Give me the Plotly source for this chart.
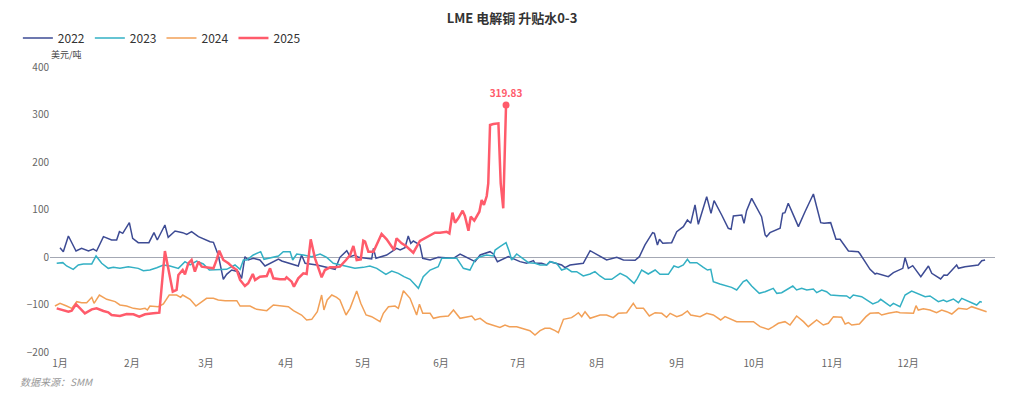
import plotly.graph_objects as go

# ---- data (x = day position within the year, y = USD/t) ----
month_ticks = [1, 29.3, 58.5, 90.0, 120.3, 151.0, 181.3, 212.4, 243.9, 274.2, 304.9, 334.9]
month_labels = ["1月", "2月", "3月", "4月", "5月", "6月", "7月", "8月", "9月", "10月", "11月", "12月"]

x22 = [1.0, 2.3, 4.3, 7.3, 9.5, 12.2, 14.1, 15.4, 18.1, 21.3, 23.3, 24.4, 25.7, 28.3, 29.6, 31.8, 36.0, 38.0, 39.3,
       42.3, 43.6, 46.3, 49.3, 50.9, 52.8, 55.5, 60.1, 61.4, 63.3, 65.3, 66.6, 68.6, 71.2, 72.5, 73.8, 75.1,
       77.1, 79.7, 81.7, 83.7, 87.0, 88.3, 91.6, 94.8, 96.1, 97.5, 102.1, 106.6, 109.3, 111.2, 113.9, 115.2, 117.1,
       118.5, 123.7, 124.4, 125.4, 129.6, 133.5, 134.9, 136.8, 138.1, 139.1, 140.1,
       142.7, 143.8, 146.7, 149.9, 155.9, 158.5, 160.4, 164.4, 166.4, 170.3, 171.6, 173.2, 177.5, 179.5, 182.1,
       184.7, 187.4, 188.0, 190.6, 192.6, 193.9, 198.5, 199.8, 201.8, 207.0, 209.7, 211.6,
       213.6, 216.2, 220.2, 222.8, 227.4, 229.1, 231.3, 234.3, 235.0, 236.2, 237.0, 238.3, 241.8, 243.8, 246.4,
       248.0, 249.3, 251.0, 252.3, 255.3, 255.6, 257.3, 258.5, 261.5, 264.1, 265.2, 266.1, 269.4, 270.3, 271.3,
       273.3, 277.2, 278.6, 279.2, 280.5, 284.5, 285.5, 286.4, 287.7,
       290.0, 291.7, 294.3, 297.6, 300.5, 301.8, 304.4, 306.5, 308.1, 311.4, 315.3, 316.0, 319.9, 321.9, 322.5,
       325.8, 327.1, 329.1, 332.8, 333.7, 335.0, 336.7, 339.9, 342.9, 344.2, 347.7, 349.0, 350.3, 354.0, 354.7,
       357.3, 362.5, 363.9, 365.2]
y22 = [19.6, 11.2, 44.2, 12.6, 18.2, 12.6, 16.8, 12.6, 42.8, 35.8, 35.8, 53.3, 49.8, 72.3, 39.3, 30.2, 30.2, 51.2, 35.8,
       67.4, 41.4, 54.7, 51.2, 47.7, 53.3, 42.8, 32.3, 30.9, 4.2, -47.0, -36.5, -27.4, -30.9, -44.9, 0.7, -6.3,
       -2.8, -6.3, -18.9, -13.3, -4.2, -8.4, -13.3, -18.9, 4.2, -13.3, -16.8, -21.8, -26.0, -0.7, 13.3, 0.7, 4.2,
       -0.7, -4.2, 18.2, -2.8, 4.2, 18.2, 14.7, 19.6, 44.2, 28.8, 33.7,
       25.3, -2.8, -6.3, -0.7, -2.8, 6.3, 0.7, -9.8, 4.2, 11.2, 6.3, -9.8, 0.7, -4.2, -9.8,
       -13.3, -7.7, -13.3, -13.3, -16.8, -9.8, -16.8, -22.5, -16.8, -13.3, 13.3, 7.7,
       2.1, -6.3, -0.7, -6.3, -7.0, 0.7, 25.3, 51.2, 49.8, 25.3, 37.2, 28.8, 30.2, 53.3, 63.9,
       77.9, 70.9, 109.5, 68.8, 127.0, 127.0, 91.9, 118.6, 88.4, 60.4, 58.2, 86.3, 88.4, 70.9, 97.5,
       123.5, 84.9, 46.3, 42.8, 51.2, 60.4, 91.9, 93.3, 113.0,
       84.9, 63.9, 95.4, 132.6, 72.3, 70.9, 72.3, 37.2, 37.2, 12.6, 11.2, 6.3, -26.0, -35.8, -34.4,
       -39.3, -41.4, -33.0, -23.9, -1.4, -23.9, -18.2, -41.4, -18.9, -34.4, -46.3, -37.9, -38.6, -16.8, -23.9,
       -20.4, -16.8, -7.7, -6.3]

x23 = [-0.3, 2.1, 3.6, 6.2, 8.2, 10.2, 13.5, 15.2, 17.4, 20.0, 22.0, 24.6, 27.9, 31.8, 33.8, 36.4, 39.1, 41.7, 44.3,
       47.6, 50.2, 52.2, 54.8, 57.4, 59.8, 62.7, 66.6, 69.9, 71.9, 73.2,
       74.5, 77.1, 80.0, 81.3, 84.3, 87.0, 88.9, 91.6, 92.6, 94.2, 96.8, 100.1, 103.4, 106.0, 108.6, 111.2, 113.9,
       117.1, 120.4, 123.0, 125.7, 129.3, 131.6, 134.2, 136.4, 138.8, 142.1,
       144.0, 146.7, 149.9, 151.3, 153.9, 157.2, 158.5, 159.8, 162.4, 164.4, 166.4, 168.9, 171.6, 172.3, 174.2,
       176.6, 177.9, 178.8, 180.8, 182.1, 185.4, 188.0, 190.0, 192.6, 193.9, 196.5, 198.5, 200.5, 202.4, 204.4,
       207.0, 209.7, 211.6,
       213.6, 215.6, 218.2, 219.5, 221.5, 224.1, 227.0, 228.3, 230.0, 232.6, 235.3, 237.2, 240.5, 242.7, 244.4,
       246.4, 248.0, 249.0, 251.7, 254.3, 255.9, 257.2, 258.2, 260.8, 263.5, 265.4, 267.4, 270.0, 271.3, 273.3,
       276.3, 278.6, 281.8, 283.2, 285.1,
       289.5, 291.0, 293.0, 295.0, 297.6, 298.9, 300.9, 302.8, 304.4, 308.1, 310.7, 312.0, 313.3, 316.6, 321.0,
       323.2, 324.1, 327.8, 329.1, 331.7, 333.7, 336.3, 338.3, 341.6, 343.5, 346.8, 348.8, 350.1, 352.7, 354.7,
       356.0, 359.3, 361.9, 363.2, 363.9]
y23 = [-13.3, -11.9, -18.9, -26.0, -16.8, -14.7, -14.7, 2.1, -13.3, -23.9, -21.8, -23.9, -20.4, -23.9, -28.8, -27.4,
       -22.5, -16.8, -18.9, -23.9, -9.8, -16.8, -8.4, -14.7, -27.4, -27.4, -26.0, -16.8, -26.0, -6.3,
       -6.3, 4.2, 11.2, -4.9, -0.7, 2.1, 11.2, 11.2, -6.3, 6.3, 4.2, 0.7, 6.3, -0.7, -13.3, -16.8, -18.9,
       -23.9, -21.8, -18.9, -23.9, -36.5, -29.5, -34.4, -41.4, -47.0, -66.0,
       -41.4, -27.4, -20.4, -2.8, -2.8, -2.8, -13.3, -23.9, -27.4, -6.3, 0.7, 4.2, 2.1, 14.7, 21.8,
       30.2, 11.2, -6.3, 6.3, 0.7, -11.9, -13.3, -16.8, -16.8, -9.8, -13.3, -27.4, -23.9, -30.9, -30.9,
       -40.0, -35.8, -30.9,
       -40.0, -47.0, -47.0, -41.4, -34.4, -41.4, -55.4, -44.9, -27.4, -35.8, -27.4, -36.5, -36.5, -18.9, -21.8,
       -16.8, -4.9, -11.9, -11.9, -21.8, -27.4, -26.0, -51.9, -56.8, -61.1, -63.9, -69.5, -51.9, -48.4, -61.1,
       -76.5, -73.0, -66.0, -76.5, -75.1,
       -61.1, -69.5, -66.0, -69.5, -67.4, -75.1, -69.5, -73.0, -80.0, -81.4, -82.1, -87.0, -80.0, -83.5, -98.9,
       -94.0, -89.1, -103.2, -97.5, -104.6, -80.0, -71.6, -76.5, -83.5, -82.1, -94.0, -90.5, -94.0, -88.4, -96.1,
       -87.0, -94.0, -101.0, -94.0, -95.4]

x24 = [-1.0, 1.0, 3.6, 5.6, 7.6, 9.5, 11.5, 13.5, 14.4, 16.5, 19.4, 22.7, 24.6, 27.2, 29.9, 32.5, 34.5, 35.4, 36.4,
       39.7, 41.7, 44.0, 46.9, 48.5, 49.3, 52.2, 54.5, 56.1, 58.7, 61.4, 63.3, 66.0, 68.6, 70.6, 71.9, 75.8,
       78.4, 80.4, 82.4, 85.0, 88.3, 90.9, 92.9, 96.1, 98.1, 100.1, 102.3, 104.0, 104.9, 106.2, 108.0, 109.9,
       111.2, 113.6, 115.2, 117.8, 119.4, 121.5, 123.7, 127.0, 128.3, 130.3, 132.9, 134.2, 136.2, 138.8, 141.4,
       142.5, 143.8, 146.7, 148.0,
       150.6, 153.9, 155.9, 158.5, 161.1, 163.1, 164.4, 166.4, 169.0, 171.6, 174.2, 176.2, 177.9, 180.8, 183.4,
       186.0, 188.0, 190.0, 191.9, 193.9, 195.9, 197.2, 199.2, 202.4, 203.4, 205.1, 206.4, 207.7, 209.7, 211.6,
       213.6, 216.2, 218.8, 220.8, 224.1, 226.7, 228.0, 230.7, 233.0, 235.3, 237.9, 239.8, 241.2, 243.8, 245.8,
       248.0, 249.3, 253.0, 255.6, 258.2, 261.1, 262.8, 265.4, 267.4, 270.0, 274.0, 276.6, 279.9, 281.8, 283.8,
       286.4, 288.4,
       291.0, 293.7, 295.6, 298.9, 301.5, 303.5, 305.5, 308.7, 310.1, 311.4, 312.7, 315.7, 318.3, 319.9, 323.2,
       324.5, 327.1, 330.4, 331.7, 335.0, 337.0, 338.0, 338.9, 340.9, 343.5, 346.1, 348.1, 350.1, 352.1, 354.7,
       358.0, 359.9, 363.2, 365.8]
y24 = [-103.2, -97.5, -103.2, -108.1, -94.0, -96.1, -96.1, -84.9, -97.5, -80.0, -89.1, -94.0, -101.0, -103.2, -108.1,
       -110.2, -108.1, -111.6, -103.2, -104.6, -98.9, -80.0, -80.0, -84.9, -80.0, -89.1, -103.2, -97.5, -87.0,
       -87.0, -90.5, -91.9, -91.9, -91.9, -103.2, -103.2,
       -110.2, -111.6, -113.0, -101.0, -103.2, -104.6, -113.0, -122.1, -132.6, -131.2, -115.1, -80.0, -111.6,
       -90.5, -80.0, -84.9, -90.5, -122.1, -108.1, -71.6, -97.5, -122.1, -125.6, -136.1, -118.6, -104.6, -103.2,
       -108.1, -70.9, -87.0, -122.1, -99.6, -118.6, -118.6, -129.1,
       -125.6, -124.2, -111.6, -129.1, -125.6, -124.2, -132.6, -129.1, -139.6, -143.2, -148.1, -143.2, -146.7,
       -146.7, -150.2, -155.1, -164.2, -155.1, -150.2, -150.2, -155.1, -159.3, -131.2, -127.7, -124.2, -117.2,
       -125.6, -115.1, -129.1, -125.6,
       -122.1, -122.1, -127.7, -118.6, -117.2, -97.5, -108.1, -108.1, -124.2, -117.2, -118.6, -127.0, -118.6,
       -125.6, -122.1, -113.7, -122.1, -125.6, -118.6, -122.1, -132.6, -125.6, -131.2, -136.1, -136.1, -136.1,
       -146.7, -152.3, -146.7, -139.6, -136.1, -143.2,
       -124.2, -136.1, -146.7, -132.6, -143.2, -139.6, -125.6, -127.0, -141.1, -138.2, -143.2, -141.1, -125.6,
       -118.6, -117.2, -122.1, -118.6, -115.1, -117.2, -117.2, -118.6, -102.5, -111.6, -108.8, -111.6, -117.2,
       -111.6, -115.1, -120.0, -108.1, -110.2, -104.6, -110.2, -115.1]

x25 = [-0.3, 1.7, 4.3, 5.6, 7.3, 8.9, 10.8, 13.5, 15.4, 18.1, 20.0, 21.3, 24.6, 27.2, 29.9, 32.2, 34.5, 37.7, 40.1,
       42.3, 43.6, 45.4, 46.9, 47.6, 49.3, 50.2, 51.5, 52.8, 54.1, 55.5, 56.8, 59.4, 61.4, 62.7, 63.7, 65.3, 67.3,
       69.0, 70.6,
       71.9, 73.8, 75.1, 76.9, 77.8, 79.7, 82.4, 83.7, 85.0, 87.6, 89.6, 90.2, 92.2, 93.1, 94.8, 96.8, 98.1, 99.7,
       101.4, 102.7, 104.0, 105.3, 107.3, 109.3, 111.2, 113.6, 115.2, 116.5, 117.8, 119.4, 120.4, 121.1, 122.4,
       124.4, 125.9, 127.6, 129.6, 131.6, 132.5, 133.5, 135.5, 137.2, 138.8, 140.1,
       142.7, 146.0, 148.6, 150.6, 153.2, 154.3, 155.5, 156.5, 157.8, 159.5, 160.4, 161.8, 162.7, 164.1, 166.1,
       167.0, 167.9, 169.0, 169.6, 170.3, 171.6, 173.6, 174.5, 175.5, 176.6]
y25 = [-108.1, -111.6, -115.1, -113.0, -99.6, -108.1, -118.6, -110.2, -108.1, -113.7, -116.5, -122.1, -124.2, -120.0,
       -120.7, -125.6, -120.7, -118.6, -117.2, 12.6, -23.9, -73.0, -69.5, -37.9, -27.4, -36.5, -13.3, -6.3, -30.9,
       -9.8, -20.4, -21.8, -23.9, -4.9, 13.3, -6.3, -13.3, -21.8, -27.4,
       -48.4, -61.1, -55.4, -35.8, -48.4, -41.4, -40.0, -23.9, -44.9, -47.0, -47.0, -42.8, -51.9, -62.5, -44.9,
       -34.4, -35.8, 37.2, -2.8, -21.8, -42.8, -27.4, -21.8, -21.8, -20.4, -6.3, 4.2, 23.2, -6.3, -4.9, 34.4, 32.3,
       11.2, 11.2, 28.8, 48.4, 37.2, 21.8, 14.7, 39.3, 28.8, 23.2, 14.7, 9.1,
       33.7, 42.8, 51.2, 51.2, 53.3, 49.8, 93.3, 72.3, 81.4, 97.5, 86.3, 55.4, 84.9, 76.5, 95.4,
       120.0, 109.5, 128.4, 155.1, 277.9, 280.0, 281.4, 155.1, 102.5, 319.83]

series = [
    ("2022", x22, y22, "#3d4b94", 1.5),
    ("2023", x23, y23, "#33b0c4", 1.5),
    ("2024", x24, y24, "#f2a057", 1.5),
    ("2025", x25, y25, "#ff5b6b", 2.5),
]

FONT = "Noto Sans CJK SC, Noto Sans, sans-serif"

fig = go.Figure()
for name, xs, ys, color, w in series:
    fig.add_trace(go.Scatter(x=xs, y=ys, name=name, mode="lines",
                             line=dict(color=color, width=w), hovertemplate="%{y:.2f}<extra>" + name + "</extra>"))

# peak marker of 2025 (last point)
fig.add_trace(go.Scatter(x=[x25[-1]], y=[y25[-1]], mode="markers+text", showlegend=False,
                         marker=dict(color="#ff5b6b", size=7),
                         texttemplate="%{y:.2f}", textposition="top center",
                         textfont=dict(color="#ff5b6b", size=10, family=FONT, weight="bold"),
                         hoverinfo="skip"))

fig.update_layout(
    width=1024, height=399,
    margin=dict(l=50, r=29, t=67, b=47),
    paper_bgcolor="white", plot_bgcolor="white",
    font=dict(family=FONT, size=10, color="#666"),
    title=dict(text="LME 电解铜 升贴水0-3", x=0.5, xref="container", xanchor="center",
               y=1 - 18 / 399, yref="container", yanchor="middle",
               font=dict(size=13, color="#333", family=FONT, weight="bold")),
    legend=dict(orientation="h", x=-0.034, xanchor="left", y=1.102, yanchor="middle",
                font=dict(size=12, color="#333"), bgcolor="rgba(0,0,0,0)", itemwidth=30),
    showlegend=True,
)
fig.update_xaxes(range=[-2.94, 369.1], tickvals=month_ticks, ticktext=month_labels,
                 showgrid=False, zeroline=False, showline=False, ticks="", ticklabelstandoff=4,
                 tickfont=dict(size=10, color="#666"))
fig.update_yaxes(range=[-200, 400], tickvals=[-200, -100, 0, 100, 200, 300, 400],
                 showgrid=False, zeroline=True, zerolinecolor="#a4a8b4", zerolinewidth=1,
                 showline=False, ticks="", tickfont=dict(size=10, color="#666"))

fig.add_annotation(text="美元/吨", xref="paper", yref="paper", x=0.017, y=1.045,
                   xanchor="center", yanchor="middle", showarrow=False,
                   font=dict(size=9, color="#444", family=FONT))
fig.add_annotation(text="<i>数据来源：SMM</i>", xref="paper", yref="paper", x=-0.034, y=-0.105,
                   xanchor="left", yanchor="middle", showarrow=False,
                   font=dict(size=10, color="#999", family=FONT))

fig.write_html("out.html", config={"displayModeBar": False},
               post_script="document.body.style.margin='0';")
